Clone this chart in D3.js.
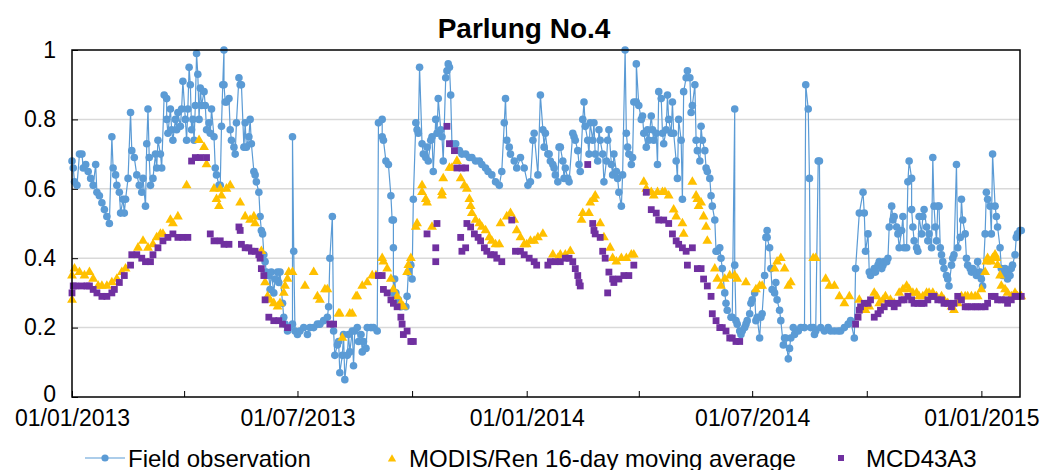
<!DOCTYPE html>
<html>
<head>
<meta charset="utf-8">
<script src="https://cdn.jsdelivr.net/npm/d3@7"></script>
<style>
  body { margin: 0; background: #fff; }
  text { font-family: "Liberation Sans", Arial, sans-serif; fill: #000; }
</style>
</head>
<body>
<svg id="chart" width="1040" height="470"></svg>
<script>
// chart title and series names
const chartTitle = "Parlung No.4";
const seriesNames = ["Field observation", "MODIS/Ren 16-day moving average", "MCD43A3"];

// y ticks and labelled x dates (day/month/year)
const yTicks = [0, 0.2, 0.4, 0.6, 0.8, 1];
const xLabelDates = ["2013-01-01", "2013-07-01", "2014-01-01", "2014-07-01", "2015-01-01"];
const xMinorDates = ["2013-04-01", "2013-10-01", "2014-04-01", "2014-10-01"];

// [days since 01/01/2013, albedo]
const fieldObs = [
  [0,.68],[1,.66],[2,.62],[4,.61],[6,.70],[8,.70],[9,.66],[11,.67],[13,.65],[15,.63],[17,.61],[19,.67],[20,.59],
  [22,.58],[24,.56],[26,.54],[28,.52],[30,.50],[32,.75],[33,.66],[35,.64],[36,.61],[38,.59],[39,.53],[41,.57],
  [42,.53],[43,.57],[45,.63],[47,.82],[48,.71],[50,.69],[52,.64],[54,.61],[56,.59],[57,.63],[59,.55],[60,.73],
  [61,.83],[62,.69],[63,.61],[65,.63],[67,.70],[68,.66],[69,.74],[71,.70],[72,.66],[74,.87],[76,.86],[76,.80],
  [77,.76],[79,.83],[80,.77],[81,.74],[83,.80],[84,.77],[85,.82],[87,.78],[88,.83],[89,.91],[91,.80],[92,.74],
  [93,.83],[94,.95],[95,.90],[96,.77],[97,.80],[98,.74],[99,.84],[100,.99],[101,.93],[102,.80],[103,.89],
  [104,.84],[106,.88],[107,.84],[108,.77],[110,.79],[111,.76],[112,.83],[114,.75],[115,.66],[116,.64],[118,.61],
  [119,.61],[120,.78],[121,.90],[122,1.0],[122,.90],[123,.85],[124,.85],[126,.86],[127,.77],[128,.74],[130,.72],
  [131,.70],[132,.79],[134,.92],[135,.90],[136,.90],[138,.72],[139,.79],[140,.72],[142,.75],[143,.80],[144,.73],
  [146,.65],[147,.64],[148,.62],[150,.59],[151,.52],[152,.48],[153,.47],[154,.41],[155,.39],[156,.36],[158,.35],
  [159,.31],[160,.36],[162,.30],[163,.34],[165,.36],[166,.33],[167,.36],[169,.27],[170,.23],[171,.21],[173,.19],
  [174,.20],[177,.21],[177,.75],[178,.42],[179,.19],[181,.18],[183,.19],[186,.20],[189,.18],[191,.20],[194,.20],
  [197,.21],[199,.21],[202,.22],[205,.23],[206,.26],[207,.40],[209,.52],[210,.19],[211,.12],[213,.15],[214,.16],
  [215,.07],[217,.12],[218,.18],[219,.05],[221,.12],[222,.18],[223,.13],[225,.19],[226,.09],[227,.19],[229,.20],
  [230,.16],[232,.18],[233,.13],[234,.16],[236,.14],[237,.20],[240,.20],[242,.20],[245,.19],[246,.79],[249,.80],
  [249,.75],[250,.74],[252,.68],[254,.67],[256,.58],[257,.51],[258,.51],[258,.43],[258,.30],[259,.34],[260,.30],
  [262,.28],[264,.26],[268,.26],[269,.29],[270,.36],[272,.38],[273,.34],[274,.57],[276,.79],[277,.77],[278,.76],
  [279,.95],[281,.73],[282,.70],[284,.69],[285,.72],[286,.68],[288,.74],[289,.75],[290,.65],[292,.80],[293,.76],
  [294,.86],[296,.77],[297,.75],[298,.68],[300,.92],[301,.94],[302,.96],[303,.95],[304,.87],[305,.73],[308,.73],
  [311,.71],[313,.70],[316,.70],[319,.69],[321,.69],[324,.68],[327,.68],[329,.67],[332,.66],[334,.65],[337,.64],
  [340,.62],[343,.61],[345,.65],[347,.79],[348,.86],[349,.74],[351,.72],[352,.70],[355,.68],[357,.66],[360,.69],
  [363,.66],[366,.61],[368,.62],[370,.74],[371,.76],[374,.64],[376,.87],[378,.77],[379,.72],[380,.76],[382,.70],
  [383,.70],[384,.68],[386,.67],[387,.66],[388,.64],[390,.62],[391,.72],[392,.72],[394,.68],[395,.63],[396,.66],
  [398,.63],[399,.62],[402,.76],[403,.75],[404,.74],[406,.71],[407,.67],[408,.65],[410,.80],[411,.85],[412,.78],
  [414,.74],[415,.70],[416,.79],[418,.74],[419,.79],[420,.70],[422,.68],[423,.77],[424,.74],[426,.70],[427,.62],
  [429,.68],[430,.74],[431,.77],[433,.67],[434,.64],[435,.70],[437,.65],[438,.63],[439,.59],[441,.55],[442,.64],
  [444,1.0],[445,.76],[446,.72],[447,.70],[449,.67],[450,.69],[451,.85],[453,.85],[453,.96],[455,.84],[457,.80],
  [458,.81],[459,.76],[461,.72],[462,.77],[463,.74],[465,.81],[466,.77],[467,.74],[469,.76],[470,.67],[471,.88],
  [473,.86],[474,.76],[475,.73],[477,.77],[478,.87],[479,.80],[481,.76],[482,.85],[483,.76],[485,.68],[486,.63],
  [487,.80],[489,.74],[490,.57],[491,.88],[493,.92],[494,.94],[496,.92],[497,.82],[498,.84],[500,.90],[501,.74],
  [502,.71],[504,.68],[505,.78],[506,.74],[508,.71],[509,.66],[510,.65],[512,.63],[513,.58],[514,.55],[516,.51],
  [517,.42],[518,.42],[520,.43],[521,.40],[522,.37],[524,.30],[525,.27],[526,.25],[529,.23],[530,.23],[532,.83],
  [532,.38],[533,.22],[534,.21],[536,.19],[537,.18],[538,.19],[540,.20],[541,.21],[542,.22],[544,.24],[545,.27],
  [546,.28],[548,.30],[549,.22],[550,.23],[552,.17],[553,.23],[554,.24],[556,.35],[557,.46],[558,.48],[558,.46],
  [560,.43],[561,.37],[562,.31],[564,.30],[565,.33],[566,.28],[568,.25],[569,.22],[571,.15],[572,.17],[573,.17],
  [575,.11],[576,.14],[577,.17],[579,.20],[580,.18],[583,.19],[585,.20],[588,.20],[589,.90],[591,.83],[592,.63],
  [593,.20],[595,.20],[596,.18],[597,.19],[599,.68],[600,.68],[601,.20],[604,.19],[607,.20],[609,.19],[612,.19],
  [615,.19],[617,.19],[620,.20],[623,.21],[625,.22],[628,.17],[629,.37],[632,.53],[635,.59],[636,.53],[637,.42],
  [639,.47],[640,.36],[641,.35],[643,.36],[644,.37],[645,.36],[647,.38],[648,.39],[650,.37],[651,.38],[652,.39],
  [654,.39],[655,.40],[656,.49],[658,.55],[659,.51],[660,.52],[662,.49],[663,.47],[664,.43],[666,.48],[667,.52],
  [668,.43],[670,.43],[671,.62],[672,.68],[674,.63],[674,.54],[675,.49],[676,.45],[678,.43],[679,.42],[680,.52],
  [682,.47],[683,.52],[684,.54],[686,.49],[687,.45],[688,.47],[690,.43],[691,.69],[692,.55],[693,.49],[694,.45],
  [695,.55],[696,.55],[697,.43],[698,.41],[699,.39],[700,.37],[702,.35],[703,.34],[704,.32],[706,.38],[707,.40],
  [708,.41],[710,.67],[711,.43],[713,.46],[714,.57],[715,.51],[717,.47],[718,.40],[719,.38],[721,.37],[722,.36],
  [723,.37],[725,.36],[726,.35],[727,.39],[729,.36],[730,.34],[731,.32],[733,.47],[734,.59],[735,.57],[737,.55],
  [738,.47],[739,.70],[741,.55],[742,.52],[743,.49],[745,.43],[746,.37],[747,.35],[749,.37],[750,.36],[751,.34],
  [753,.35],[754,.37],[755,.38],[757,.41],[758,.46],[759,.47],[761,.48],[762,.48]
];

const modisRen = [
  [0,.28],[0,.35],[2,.37],[6,.36],[10,.35],[14,.36],[17,.34],[21,.32],[24,.32],[28,.32],[32,.33],[36,.34],[40,.36],
  [43,.37],[53,.43],[57,.45],[61,.43],[65,.44],[68,.46],[71,.47],[73,.47],[79,.51],[81,.50],[85,.52],[92,.61],
  [102,.74],[106,.72],[108,.67],[114,.60],[116,.57],[118,.55],[119,.60],[120,.58],[124,.60],[127,.61],[135,.56],
  [139,.52],[143,.51],[146,.52],[147,.50],[152,.42],[155,.33],[157,.29],[159,.28],[162,.27],[165,.26],[167,.27],
  [170,.30],[171,.32],[173,.34],[174,.36],[177,.36],[187,.32],[194,.36],[197,.29],[199,.28],[203,.31],[205,.31],
  [214,.24],[215,.24],[217,.17],[223,.24],[225,.24],[228,.29],[229,.29],[233,.32],[237,.33],[241,.35],[244,.35],
  [249,.40],[250,.39],[253,.37],[256,.34],[258,.31],[261,.29],[264,.27],[266,.26],[269,.36],[270,.38],[272,.40],
  [276,.49],[277,.50],[281,.61],[281,.59],[284,.57],[285,.56],[289,.49],[297,.58],[297,.59],[298,.63],[303,.66],
  [305,.66],[309,.68],[312,.63],[315,.61],[317,.60],[319,.57],[320,.55],[321,.53],[324,.51],[327,.50],[329,.49],
  [332,.48],[335,.46],[337,.45],[340,.44],[343,.44],[344,.50],[349,.52],[352,.53],[355,.51],[357,.48],[360,.46],
  [363,.44],[365,.44],[368,.45],[371,.45],[374,.46],[378,.47],[386,.41],[390,.40],[392,.41],[396,.41],[400,.42],
  [409,.51],[410,.53],[415,.53],[416,.56],[419,.57],[420,.58],[424,.50],[427,.46],[432,.43],[434,.40],[437,.39],
  [441,.40],[445,.40],[449,.41],[451,.41],[459,.62],[461,.60],[462,.59],[465,.59],[467,.58],[470,.59],[474,.59],
  [476,.59],[479,.58],[483,.54],[485,.52],[490,.50],[491,.47],[498,.62],[501,.58],[502,.57],[503,.55],[505,.56],
  [507,.52],[509,.49],[510,.45],[516,.37],[518,.34],[521,.32],[524,.34],[528,.35],[532,.35],[534,.34],[541,.33],
  [549,.31],[552,.32],[554,.32],[564,.37],[566,.39],[569,.40],[572,.37],[575,.32],[577,.33],[595,.40],[597,.40],
  [605,.34],[608,.32],[612,.32],[616,.29],[620,.27],[624,.29],[632,.28],[637,.25],[640,.26],[644,.30],[646,.29],
  [648,.27],[651,.28],[653,.29],[657,.28],[660,.27],[664,.30],[667,.31],[670,.32],[672,.31],[675,.30],[678,.30],
  [680,.29],[683,.29],[686,.30],[688,.30],[691,.30],[694,.29],[698,.29],[700,.28],[703,.27],[706,.26],[708,.25],
  [711,.27],[714,.29],[717,.29],[719,.29],[722,.29],[725,.29],[727,.29],[730,.31],[733,.36],[734,.39],[735,.40],
  [738,.39],[739,.40],[741,.41],[742,.40],[743,.38],[745,.35],[746,.32],[749,.31],[751,.30],[754,.29],[757,.30],
  [759,.29],[762,.29]
];

const mcd43a3 = [
  [0,.30],[1,.32],[3,.32],[8,.32],[12,.32],[14,.32],[17,.31],[20,.30],[24,.29],[28,.29],[32,.30],[34,.31],[38,.33],
  [42,.35],[47,.38],[48,.41],[52,.41],[56,.40],[59,.39],[63,.39],[65,.41],[69,.43],[73,.45],[77,.46],[81,.47],
  [85,.46],[89,.46],[93,.46],[96,.68],[99,.69],[103,.69],[108,.69],[111,.47],[114,.45],[119,.45],[122,.44],
  [126,.44],[134,.49],[135,.48],[136,.44],[139,.43],[142,.43],[144,.42],[147,.42],[150,.41],[151,.40],[152,.37],
  [154,.35],[155,.28],[158,.23],[162,.22],[166,.22],[169,.21],[173,.20],[207,.21],[210,.21],[246,.35],[249,.35],
  [250,.31],[253,.30],[256,.28],[258,.27],[261,.26],[264,.23],[265,.21],[266,.18],[269,.19],[272,.16],[274,.16],
  [285,.47],[292,.43],[292,.39],[293,.50],[301,.78],[303,.73],[307,.71],[309,.66],[313,.66],[316,.66],[312,.46],
  [313,.42],[316,.43],[317,.50],[320,.49],[323,.47],[326,.46],[328,.45],[331,.43],[333,.42],[336,.41],[339,.41],
  [341,.40],[345,.39],[353,.51],[356,.42],[360,.42],[363,.41],[367,.40],[371,.39],[373,.38],[382,.38],[384,.39],
  [388,.39],[392,.39],[396,.40],[399,.40],[402,.39],[404,.37],[406,.35],[407,.33],[408,.32],[414,.67],[418,.50],
  [419,.48],[420,.47],[424,.46],[426,.42],[428,.40],[430,.30],[431,.36],[434,.34],[435,.33],[439,.34],[443,.35],
  [447,.35],[451,.38],[461,.59],[465,.54],[469,.53],[471,.51],[475,.51],[479,.50],[482,.47],[485,.45],[487,.44],
  [490,.43],[493,.42],[494,.38],[498,.43],[502,.37],[505,.37],[507,.34],[510,.32],[513,.29],[514,.24],[517,.22],
  [520,.20],[522,.20],[525,.19],[528,.17],[530,.17],[533,.16],[536,.16],[629,.21],[631,.23],[632,.25],[633,.26],
  [636,.27],[639,.27],[641,.28],[644,.23],[647,.24],[649,.25],[652,.26],[655,.27],[658,.27],[660,.26],[663,.27],
  [666,.28],[668,.28],[671,.29],[674,.28],[676,.27],[679,.27],[682,.27],[684,.27],[687,.28],[690,.29],[692,.29],
  [695,.28],[698,.28],[700,.27],[703,.27],[706,.26],[708,.27],[711,.29],[714,.28],[717,.26],[719,.26],[722,.26],
  [725,.26],[727,.26],[730,.26],[733,.26],[735,.27],[738,.29],[741,.29],[743,.28],[746,.28],[749,.28],[751,.27],
  [754,.28],[757,.29],[759,.29],[762,.29]
];

const colors = { field: "#5B9BD5", modis: "#FFC000", mcd: "#7030A0" };

// set graph dimensions
let margin = { top: 50, right: 20, bottom: 73, left: 72 };
let width = 1040 - margin.left - margin.right;
let height = 470 - margin.top - margin.bottom;

let start = new Date(2013, 0, 1);
let toDate = d => d3.timeDay.offset(start, d);
let parse = d3.timeParse("%Y-%m-%d");
let fmt = d3.timeFormat("%d/%m/%Y");

// set the ranges
let x = d3.scaleTime().domain([start, new Date(2015, 1, 1)]).range([0, width]);
let y = d3.scaleLinear().domain([0, 1]).range([height, 0]);

let svg = d3.select("#chart");

svg.append("text")
  .attr("x", 524).attr("y", 38)
  .attr("text-anchor", "middle")
  .style("font-size", "28px").style("font-weight", "bold")
  .text(chartTitle);

let g = svg.append("g").attr("transform", `translate(${margin.left},${margin.top})`);

// grid lines
g.append("g").selectAll("line").data(yTicks.filter(t => t > 0 && t < 1)).join("line")
  .attr("x1", 0).attr("x2", width)
  .attr("y1", d => y(d)).attr("y2", d => y(d))
  .attr("stroke", "#d9d9d9").attr("stroke-width", 1.5);

// y axis labels + inner ticks
let yAxis = g.append("g").call(d3.axisLeft(y).tickValues(yTicks).tickSize(-6).tickPadding(16).tickFormat(d3.format("~g")));
yAxis.select(".domain").remove();
yAxis.selectAll("line").attr("stroke", "#000");
yAxis.selectAll("text").style("font-size", "23px").attr("font-family", null);
// nudge the "0" up a bit so it clears the first date label
yAxis.selectAll("text").filter(d => d === 0).attr("dy", "0.2em");

// x axis: quarterly inner ticks, labels every half year
let xTickDates = xLabelDates.concat(xMinorDates).map(parse);
let xAxis = g.append("g").attr("transform", `translate(0,${height})`)
  .call(d3.axisBottom(x).tickValues(xTickDates).tickSize(-6).tickPadding(13)
    .tickFormat(d => xLabelDates.includes(d3.timeFormat("%Y-%m-%d")(d)) ? fmt(d) : ""));
xAxis.select(".domain").remove();
xAxis.selectAll("line").attr("stroke", "#000");
xAxis.selectAll("text").style("font-size", "23px").attr("font-family", null);

// field observation: line + circles
let line = d3.line().x(d => x(toDate(d[0]))).y(d => y(d[1]));
g.append("path").datum(fieldObs)
  .attr("fill", "none").attr("stroke", colors.field).attr("stroke-width", 1.2)
  .attr("d", line);
g.append("g").selectAll("circle").data(fieldObs).join("circle")
  .attr("cx", d => x(toDate(d[0]))).attr("cy", d => y(d[1]))
  .attr("r", 3.8).attr("fill", colors.field);

// MODIS triangles
let tri = d3.symbol().type(d3.symbolTriangle).size(42);
g.append("g").selectAll("path").data(modisRen).join("path")
  .attr("transform", d => `translate(${x(toDate(d[0]))},${y(d[1])})`)
  .attr("d", tri).attr("fill", colors.modis);

// MCD43A3 squares
g.append("g").selectAll("rect").data(mcd43a3).join("rect")
  .attr("x", d => x(toDate(d[0])) - 3.4).attr("y", d => y(d[1]) - 3.4)
  .attr("width", 6.8).attr("height", 6.8).attr("fill", colors.mcd);

// plot frame
g.append("rect").attr("width", width).attr("height", height)
  .attr("fill", "none").attr("stroke", "#000").attr("stroke-width", 1.5);

// legend
let leg = svg.append("g").attr("transform", "translate(0,458)");
leg.append("line").attr("x1", 85).attr("x2", 125).attr("stroke", colors.field).attr("stroke-width", 1.2);
leg.append("circle").attr("cx", 105).attr("r", 3.6).attr("fill", colors.field);
leg.append("path").attr("transform", "translate(392,1)").attr("d", d3.symbol().type(d3.symbolTriangle).size(30)).attr("fill", colors.modis);
leg.append("rect").attr("x", 838).attr("y", -3).attr("width", 6).attr("height", 6).attr("fill", colors.mcd);
[[128, seriesNames[0]], [409, seriesNames[1]], [866, seriesNames[2]]].forEach(([lx, t]) => {
  leg.append("text").attr("x", lx).attr("y", 8.5).style("font-size", "24px").text(t);
});
</script>
</body>
</html>
